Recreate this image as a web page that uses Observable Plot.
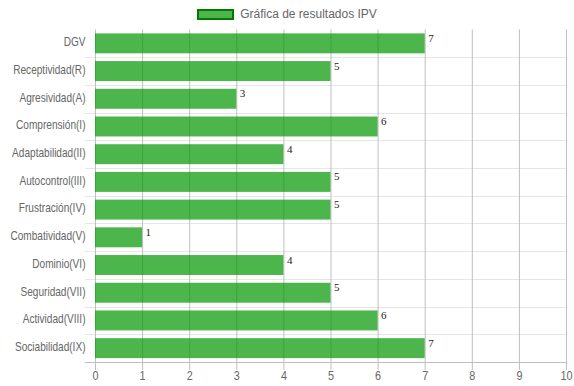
<!DOCTYPE html>
<html><head><meta charset="utf-8">
<script src="https://cdn.jsdelivr.net/npm/d3@7"></script>
<script src="https://cdn.jsdelivr.net/npm/@observablehq/plot@0.6"></script>
<style>
html,body{margin:0;padding:0;background:#fff;}
body{font-family:"Liberation Sans",Arial,Helvetica,sans-serif;width:574px;}
#legend{height:28px;display:flex;align-items:center;justify-content:center;font-size:12px;color:#666;}
#legend .sw{box-sizing:border-box;width:37px;height:11px;background:rgba(0,150,0,0.7);border:2px solid #007a00;margin-right:6px;margin-top:1px;}
#chart svg{display:block;}
</style></head><body>
<div id="legend"><span class="sw"></span><span id="legtext"></span></div>
<div id="chart"></div>
<script>
const seriesLabel = "Gráfica de resultados IPV";
const categories = ["DGV","Receptividad(R)","Agresividad(A)","Comprensión(I)","Adaptabilidad(II)","Autocontrol(III)","Frustración(IV)","Combatividad(V)","Dominio(VI)","Seguridad(VII)","Actividad(VIII)","Sociabilidad(IX)"];
const values = [7,5,3,6,4,5,5,1,4,5,6,7];
const xTicks = [0,1,2,3,4,5,6,7,8,9,10];

document.getElementById("legtext").textContent = seriesLabel;
const data = categories.map((c, i) => ({category: c, value: values[i]}));

const W = 574, H = 358, mt = 1.5, mb = 24, ml = 95, mr = 8;
const step = (H - mt - mb) / categories.length;
const gridColor = "#bfbfbf";

// horizontal lines at category boundaries, derived from the band scale
function bandLines(index, scales, values, dims) {
  const y = scales.y, bw = y.bandwidth();
  const g = d3.create("svg:g");
  const x0 = dims.marginLeft - 10, x1 = dims.width - dims.marginRight;
  categories.forEach((c, i) => {
    if (i === 0) return;
    const yy = Math.round(y(c)) + 0.5;
    g.append("line").attr("x1", x0).attr("x2", x1).attr("y1", yy).attr("y2", yy)
      .attr("stroke", "#e6e6e6");
  });
  const yb = Math.round(y(categories[categories.length - 1]) + bw) + 0.5;
  g.append("line").attr("x1", x0).attr("x2", x1).attr("y1", yb).attr("y2", yb)
    .attr("stroke", gridColor);
  return g.node();
}

const chart = Plot.plot({
  width: W, height: H,
  marginTop: mt, marginBottom: mb, marginLeft: ml, marginRight: mr,
  style: {fontFamily: "Liberation Sans, Arial, sans-serif", fontSize: "12px", color: "#666", background: "#fff", overflow: "visible"},
  x: {domain: [0, 10], label: null},
  y: {domain: categories, padding: 0, round: false, label: null},
  marks: [
    bandLines,
    Plot.gridX({ticks: xTicks, stroke: gridColor, strokeOpacity: 1}),
    Plot.axisX({ticks: xTicks, tickSize: 8, tickPadding: 1, stroke: gridColor, fill: "#666", fontSize: 12, label: null}),
    Plot.axisY({tickSize: 0, tickPadding: 10, dy: -1.5, fill: "#666", fontSize: 12, label: null}),
    Plot.barX(data, {x: "value", y: "category", fill: "rgb(0,150,0)", fillOpacity: 0.7, insetTop: step * 0.14, insetBottom: step * 0.14}),
    Plot.text(data, {x: "value", y: "category", text: d => String(d.value), textAnchor: "start", dx: 3, dy: -5.5, fontFamily: "Liberation Serif, Times New Roman, serif", fontSize: 11, fill: "#222"})
  ]
});

// the reference draws axis labels in a condensed face: compress horizontally
function squeeze(selector, s) {
  chart.querySelectorAll(selector).forEach(t => {
    const tr = t.getAttribute("transform") || "";
    t.setAttribute("transform", `${tr} scale(${s},1)`);
  });
}
squeeze('g[aria-label="y-axis tick label"] text', 0.84);
squeeze('g[aria-label="x-axis tick label"] text', 0.9);
document.getElementById("chart").appendChild(chart);
</script>
</body></html>
